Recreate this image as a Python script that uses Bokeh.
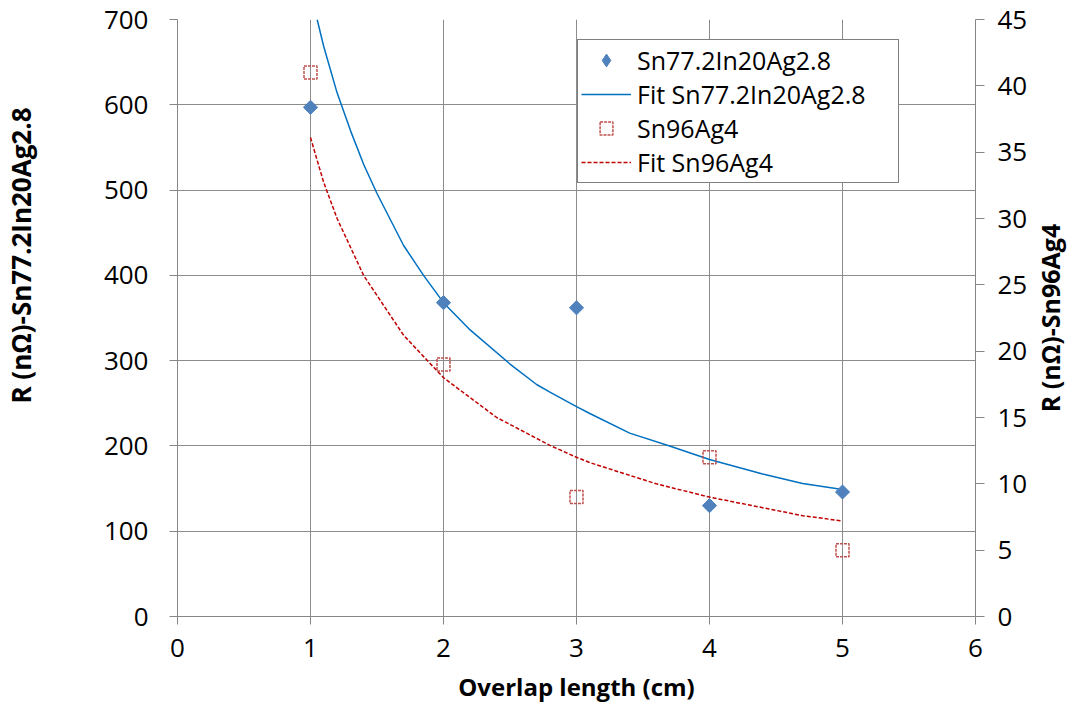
import math
from bokeh.plotting import figure
from bokeh.layouts import row
from bokeh.models import (Range1d, LinearAxis, SingleIntervalTicker, Legend, LegendItem, Title)
from bokeh.embed import file_html
from bokeh.resources import INLINE

# ---- data ----
overlap_cm = [1, 2, 3, 4, 5]
r_sn77 = [597, 368, 362, 130, 146]          # left axis (nΩ)
r_sn96 = [41, 19, 9, 12, 5]                 # right axis (nΩ)

fit_sn77_x = [1.05, 1.1, 1.2, 1.3, 1.4, 1.5, 1.7, 1.85, 2.0, 2.2, 2.5, 2.7, 2.8, 3.0, 3.1,
              3.4, 3.7, 4.0, 4.4, 4.7, 5.0]
fit_sn77_y = [700, 668, 614, 570, 530, 496, 435, 400, 368, 336, 296, 272, 263, 246, 238,
              215, 200, 184, 167, 156, 149]
fit_sn96_x = [1.0, 1.1, 1.2, 1.4, 1.7, 2.0, 2.4, 2.8, 3.0, 3.1, 3.6, 4.0, 4.4, 4.7, 5.0]
fit_sn96_y = [36.1, 32.7, 30.0, 25.7, 21.2, 18.0, 15.0, 12.9, 12.0, 11.6, 10.0, 9.0, 8.2, 7.6, 7.2]

x_title = "Overlap length (cm)"
left_title = "R (nΩ)-Sn77.2In20Ag2.8"
right_title = "R (nΩ)-Sn96Ag4"
names = ["Sn77.2In20Ag2.8", "Fit Sn77.2In20Ag2.8", "Sn96Ag4", "Fit Sn96Ag4"]

FONT = "Open Sans"
AXIS_COLOR = "#868686"
GRID_COLOR = "#8c8c8c"
BLUE_MK = "#4F81BD"
RED_MK = "#C0504D"

p = figure(frame_width=798, frame_height=597,
           x_range=Range1d(0, 6), y_range=Range1d(0, 700),
           output_backend="svg", toolbar_location=None,
           min_border_left=176, min_border_right=52, min_border_top=19, min_border_bottom=85)
p.extra_y_ranges = {"r": Range1d(0, 45)}
p.outline_line_color = None
p.background_fill_color = "white"
p.border_fill_color = "white"

# axes
xa = p.xaxis[0]
xa.ticker = SingleIntervalTicker(interval=1)
ya = p.yaxis[0]
ya.ticker = SingleIntervalTicker(interval=100)
ra = LinearAxis(y_range_name="r", ticker=SingleIntervalTicker(interval=5))
p.add_layout(ra, "right")

for ax in (xa, ya, ra):
    ax.axis_line_color = AXIS_COLOR
    ax.axis_line_width = 1
    ax.major_tick_line_color = AXIS_COLOR
    ax.major_tick_in = 0
    ax.major_tick_out = 8
    ax.minor_tick_line_color = None
    ax.major_label_text_font = FONT
    ax.major_label_text_font_size = "26px"
    ax.major_label_text_color = "black"
    ax.axis_label_text_font = FONT
    ax.axis_label_text_font_style = "bold"
    ax.axis_label_text_color = "black"

xa.major_label_standoff = 14
xa.axis_label = x_title
xa.axis_label_text_font_size = "24px"
xa.axis_label_standoff = 10

ya.major_label_standoff = 21
# blank spacer label pushes the left title outwards
ya.axis_label = " "
ya.axis_label_text_font_size = "24px"
ya.axis_label_standoff = 26

ra.major_label_standoff = 13
ra.major_tick_out = 9

# left title, placed above centre like the original
lt = Title(text=left_title, align="right", offset=88, standoff=0, text_font=FONT,
           text_font_size="26px", text_font_style="bold", text_color="black")
p.add_layout(lt, "left")

# grid
p.xgrid.ticker = SingleIntervalTicker(interval=1)
p.ygrid.ticker = SingleIntervalTicker(interval=100)
for g in (p.xgrid, p.ygrid):
    g.grid_line_color = GRID_COLOR
    g.grid_line_width = 1

# series
r_fit1 = p.line(fit_sn77_x, fit_sn77_y, line_color="#0070C0", line_width=1.5)
r_fit2 = p.line(fit_sn96_x, fit_sn96_y, line_color="#C00000", line_width=1.5,
                line_dash="4 2", y_range_name="r")
# key glyph for the diamonds (hidden under the plotted diamonds)
k_pts1 = p.scatter(overlap_cm, r_sn77, marker="diamond", size=12,
                   fill_color=BLUE_MK, line_color=BLUE_MK)
r_pts1 = p.scatter(overlap_cm, r_sn77, marker="square", size=10, angle=math.pi / 4,
                   fill_color=BLUE_MK, line_color=BLUE_MK)
r_pts2 = p.scatter(overlap_cm, r_sn96, marker="square", size=13, fill_color=None,
                   line_color=RED_MK, line_width=1.5, line_dash="3 1", y_range_name="r")

legend = Legend(items=[
    LegendItem(label=names[0], renderers=[k_pts1]),
    LegendItem(label=names[1], renderers=[r_fit1]),
    LegendItem(label=names[2], renderers=[r_pts2]),
    LegendItem(label=names[3], renderers=[r_fit2]),
], location=(400, 433))
legend.label_text_font = FONT
legend.label_text_font_size = "25px"
legend.label_text_color = "black"
legend.glyph_width = 50
legend.glyph_height = 32
legend.label_standoff = 6
legend.label_width = 258
legend.spacing = 0
legend.padding = 3
legend.margin = 0
legend.border_line_color = "black"
legend.border_line_width = 1
legend.background_fill_color = "white"
legend.background_fill_alpha = 1
p.add_layout(legend, "center")

# narrow companion figure that carries the right-hand axis title (reads bottom-to-top)
p2 = figure(frame_width=1, frame_height=597, x_axis_type=None, y_axis_type=None,
            output_backend="svg", toolbar_location=None,
            min_border_left=0, min_border_right=0, min_border_top=19, min_border_bottom=85)
p2.outline_line_color = None
p2.background_fill_color = "white"
p2.border_fill_color = "white"
p2.add_layout(Title(text=right_title, align="center", standoff=0, text_font=FONT,
                    text_font_size="25px", text_font_style="bold", text_color="black"),
              "left")

layout = row(p, p2, spacing=0)
open("out.html", "w").write(file_html(layout, INLINE))
